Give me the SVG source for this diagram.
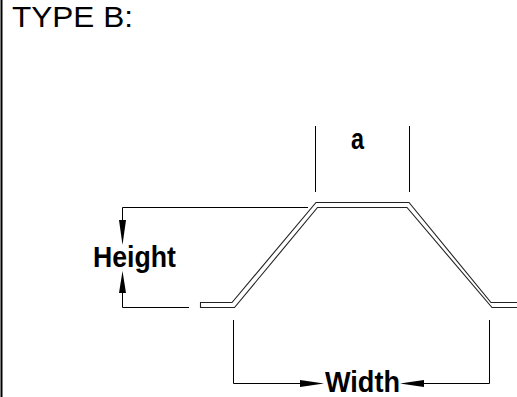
<svg xmlns="http://www.w3.org/2000/svg" width="517" height="397" viewBox="0 0 517 397">
<style>
.ln{fill:none;stroke:#000;stroke-width:1}
.pf{fill:none;stroke:#222;stroke-width:1.1;stroke-linejoin:miter}
.lbl{font-family:"Liberation Sans",Arial,sans-serif;font-weight:bold;fill:#000}
.ttl{font-family:"Liberation Sans",Arial,sans-serif;fill:#000}
.ah{fill:#000;stroke:none}
</style>
<rect x="0" y="0" width="517" height="397" fill="#fff"/>
<line x1="1.5" y1="0" x2="1.5" y2="397" stroke="#000" stroke-width="2"/>
<text class="ttl" x="12" y="27" font-size="29" textLength="121" lengthAdjust="spacingAndGlyphs">TYPE B:</text>
<g id="profile">
<path class="pf" d="M517,302.5 H491 L409,202.5 H316 L232,302.5 H200.5 V307.5 H234.5 L317.5,207.5 H407 L492,307.5 H517"/>
</g>
<g id="connectors">
<line class="ln" x1="315.5" y1="126" x2="315.5" y2="192"/>
<line class="ln" x1="409.5" y1="126" x2="409.5" y2="192"/>
<polyline class="ln" points="308,207.5 122.5,207.5 122.5,221"/>
<polyline class="ln" points="189,307.5 122.5,307.5 122.5,293"/>
<polygon class="ah" points="119,220 126,220 122.5,245"/>
<polygon class="ah" points="119,293 126,293 122.5,271"/>
<polyline class="ln" points="233.5,320 233.5,383.5 301,383.5"/>
<polyline class="ln" points="489.5,320 489.5,383.5 422,383.5"/>
<polygon class="ah" points="300,380 300,387 324,383.5"/>
<polygon class="ah" points="424,380 424,387 400,383.5"/>
</g>
<g id="label-a"><text class="lbl" x="351" y="149" font-size="30" textLength="13" lengthAdjust="spacingAndGlyphs">a</text></g>
<g id="label-height"><text class="lbl" x="93" y="267" font-size="29" textLength="83" lengthAdjust="spacingAndGlyphs">Height</text></g>
<g id="label-width"><text class="lbl" x="325" y="392" font-size="30" textLength="75" lengthAdjust="spacingAndGlyphs">Width</text></g>
</svg>
